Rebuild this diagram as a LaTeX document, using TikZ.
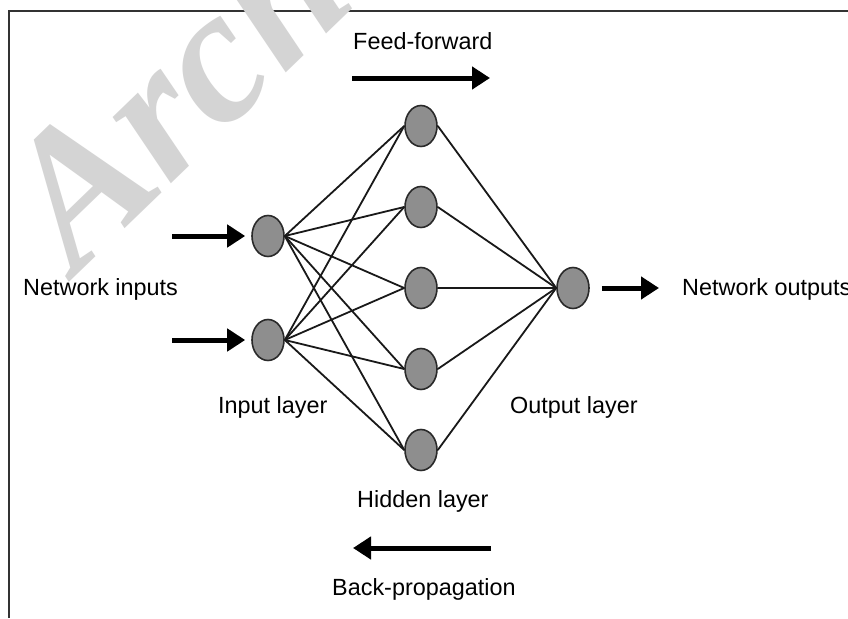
\documentclass[tikz,border=0pt]{standalone}
\usepackage{fontspec}
\setmainfont{Liberation Sans}
\newfontfamily\wmfont{Liberation Serif}
\usetikzlibrary{arrows.meta,shapes.geometric}

\definecolor{neuronfill}{HTML}{8E8E8E}
\definecolor{neuronedge}{HTML}{2A2A2A}
\definecolor{framecol}{HTML}{333333}
\definecolor{wmcol}{HTML}{D4D4D4}

\tikzset{
  neuron/.style={ellipse, draw=neuronedge, line width=1.6pt, fill=neuronfill,
    minimum width=32pt, minimum height=41pt, inner sep=0pt},
  link/.style={line width=1.8pt, black!90},
  bigarrow/.style={line width=5pt, black,
    -{Triangle[length=18pt,width=22pt]}},
  lbl/.style={anchor=base west, inner sep=0pt,
    font=\fontsize{23.4}{28}\selectfont},
  wm/.style={anchor=base west, inner sep=0pt, text=wmcol,
    font=\wmfont\bfseries\itshape\fontsize{192}{192}\selectfont}
}

\begin{document}
\begin{tikzpicture}[x=1pt, y=-1pt]
  \useasboundingbox (0,0) rectangle (848,618);
  \fill[white] (0,0) rectangle (848,618);

  % frame (top and left edges)
  \draw[framecol, line width=2.5pt] (9,618) -- (9,11) -- (848,11);

  % background lettering
  \node[wm, rotate=44] (mark) at (76,276) {Arch};

  % neurons
  \node[neuron] (i1) at (268,236) {};
  \node[neuron] (i2) at (268,340) {};
  \foreach \k/\y in {1/126,2/207,3/288,4/369,5/450}
    \node[neuron] (h\k) at (421,\y) {};
  \node[neuron] (o) at (573,288) {};

  % weights
  \foreach \a in {i1,i2}
    \foreach \k in {1,...,5}
      \draw[link] (\a.east) -- (h\k.west);
  \foreach \k in {1,...,5}
    \draw[link] (h\k.east) -- (o.west);

  % input / output arrows
  \coordinate (in1) at (172,236);
  \coordinate (in2) at (172,340);
  \coordinate (outend) at (659,288);
  \draw[bigarrow, shorten >=6pt] (in1) -- (i1.west);
  \draw[bigarrow, shorten >=6pt] (in2) -- (i2.west);
  \draw[bigarrow, shorten <=12pt] (o.east) -- (outend);

  % direction arrows
  \coordinate (ffa) at (352,78);
  \coordinate (ffb) at (490,78);
  \coordinate (bpa) at (491,548);
  \coordinate (bpb) at (353,548);
  \draw[bigarrow] (ffa) -- (ffb);
  \draw[bigarrow] (bpa) -- (bpb);

  % labels
  \node[lbl] (tff) at (353,49) {Feed-forward};
  \node[lbl] (tin) at (23,295) {Network inputs};
  \node[lbl] (tout) at (682,295) {Network outputs};
  \node[lbl] (til) at (218,413) {Input layer};
  \node[lbl] (tol) at (510,413) {Output layer};
  \node[lbl] (thl) at (357,507) {Hidden layer};
  \node[lbl] (tbp) at (332,595) {Back-propagation};
\end{tikzpicture}
\end{document}
